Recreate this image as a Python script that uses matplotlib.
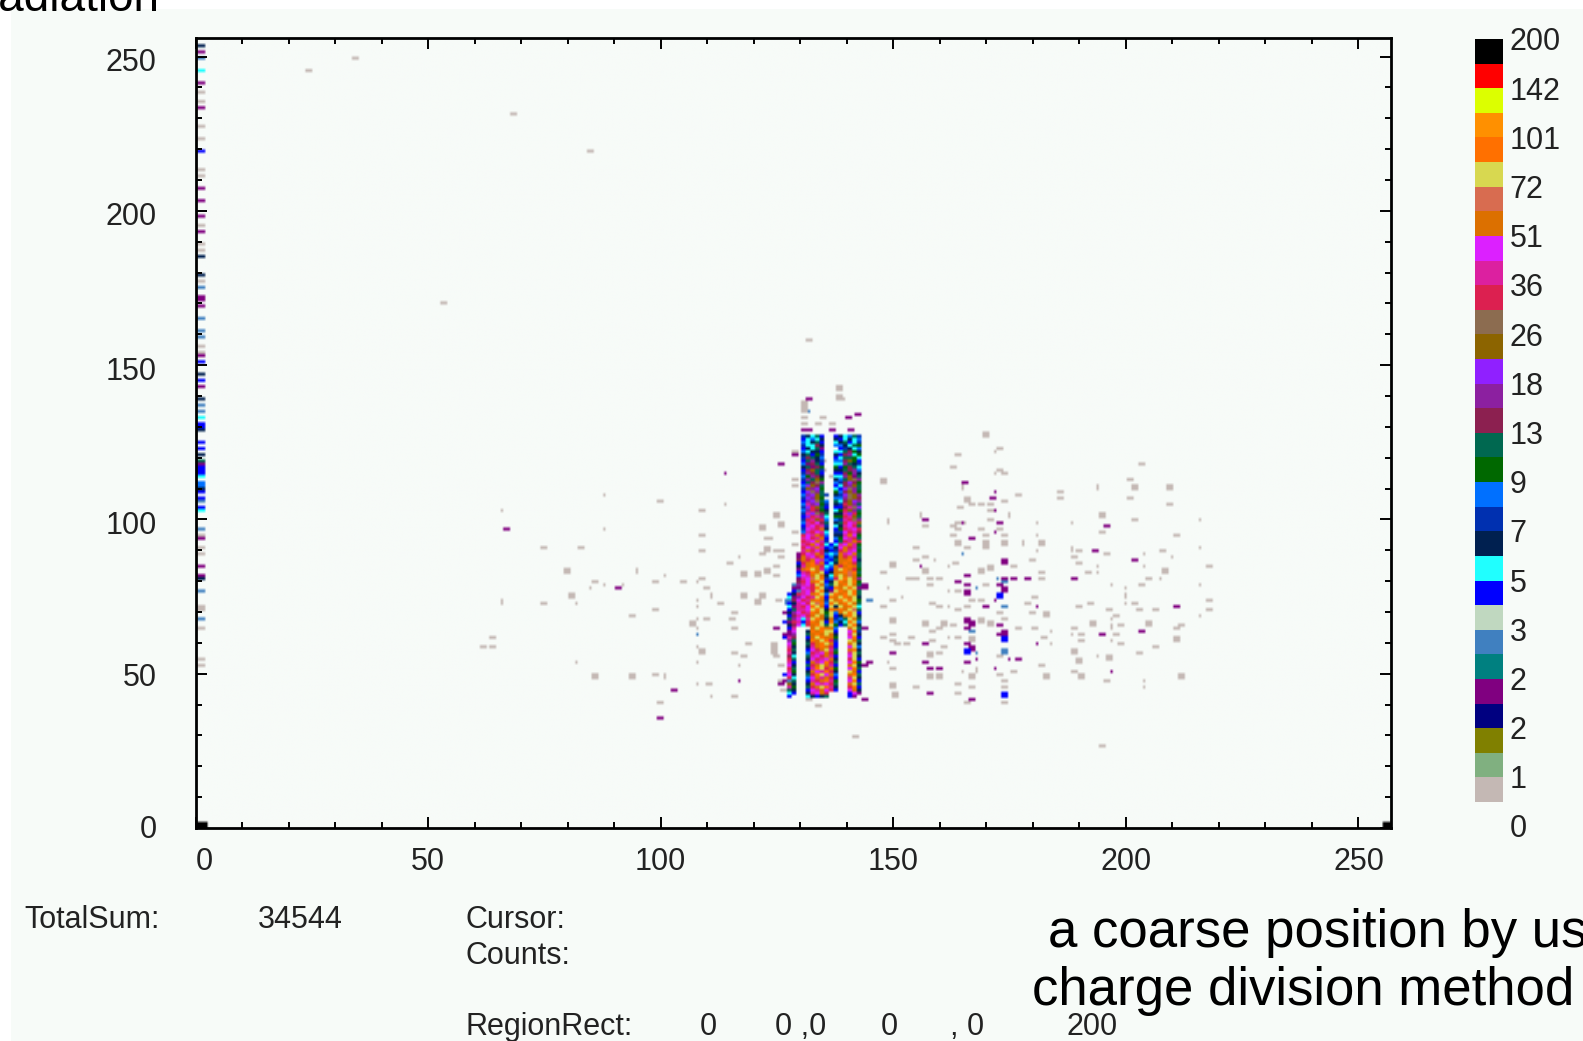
import numpy as np
import matplotlib
matplotlib.use('Agg')
import matplotlib.pyplot as plt
from matplotlib.colors import to_rgb
from matplotlib.patches import Rectangle
from matplotlib.transforms import ScaledTranslation

# colour scale, bottom to top
palette = {
    'a': '#c4b8b4', 'b': '#80b080', 'c': '#808000', 'd': '#000080', 'e': '#800080',
    'f': '#008080', 'g': '#4080c0', 'h': '#c0d8c0', 'i': '#0000ff', 'j': '#20ffff',
    'k': '#002050', 'l': '#0030b0', 'm': '#0070ff', 'n': '#006800', 'o': '#006850',
    'p': '#8c2050', 'q': '#8c20a0', 'r': '#9020ff', 's': '#8c6400', 't': '#8c6c50',
    'u': '#dc2050', 'v': '#dc20a0', 'w': '#dc20ff', 'x': '#dc7000', 'y': '#d86c50',
    'z': '#d8d850', 'A': '#ff7000', 'B': '#ff9000', 'C': '#dcff00', 'D': '#ff0000',
    'E': '#000000',
}
scale_labels = ['0', '1', '2', '2', '3', '5', '7', '9', '13', '18', '26', '36',
                '51', '72', '101', '142', '200']

# dense double peak, one string per row, columns start at x = 126
blob_top_y = 126
blob_rows = [
    ".... lkjoi. .i kjmol.", ".... ijmjk. .k ijkjm.", ".... mjkoi. .j koijl.",
    ".... ljjpk. .m mkjon.", ".... ikjoe. .. ilkjm.", ".... mjkki. .j jopnk.",
    ".... koinl. .k ipqjn.", ".... lpokm. .i joonj.", ".... ioqkl. .m mpsni.",
    ".... mepoi. .j jqokl.", ".... koepn. .n inpoj.", ".... ipsol. .k kopqm.",
    ".... lqpoi. .i ipnqk.", ".... mnqpk. .j jqseo.", ".... lqosn. .k mostq.",
    ".... ioptq. .m lprpn.", ".... mrspo. .i jpqso.", ".... lsqrn. .j irtqo.",
    ".... irtqo. .n mpsqn.", ".... mqrsol .k lrtsq.", ".... lrqsn. .m mqtsp.",
    ".... iqrtom .o jpsrq.", ".... mvqrnl .k lusqo.", ".... lrusoi .i ipvtr.",
    ".... mqupnk .j nusqo.", ".... lvrtpo .k kvrun.", ".... iruvqj .n nuvso.",
    ".... luvsum .m lvutq.", ".... mvuwpo .k ouwvs.", ".... ivwuvl .j kvwuo.",
    ".... lwvuxk .i nuvwu.", ".... mvuwvj .l lwuvp.", ".... uwvxum .k kvxwn.",
    ".... vwuvxi .m nwvuo.", ".... uvwxvl .i ouvxu.", ".... vuxwuj ij vwxvn.",
    ".... uwvxvi mk wxuvo.", ".... vxuwuk il uxvwn.", "...e uwvxum jm xvwxo.",
    "...e xvwuxi mk xuxvo.", "...p xuxwvm io xxAwk.", "...i uxAvxi jk xAxuo.",
    "...k vxAxuj mx uxAxo.", "...e xAzxvm ix zAxun.", "...i vuAxzi kx xAyAo.",
    "...m wvxzxk jx zxyxn.", "...e vwyzAl mu zAzxq.", "...p uwxAzi kz AxzAn.",
    "..gq vwuzxm oz xAzxo.", "..ee wvuAzl iA xzAze.", "..ig vwuzAk ez AxzAo.",
    ".iku vwxAzm zA xAzAo.", ".jeq wuvzAi Ax zAxzk.", ".gpw uvxAxl zx AzAzn.",
    ".ikv wuzyAm Az xAzxo.", ".jev uwAzxi zk zxAzj.", ".iov vwzAzk Ax Axzyo.",
    "ekqw uvAxzn zm xzAzi.", ".ipv wuxzxo zi kxAzk.", ".oqw jvzAxk xl mozxo.",
    "ieuv iuAxzi Am kjAzm.", ".kpw juxAzo zn iozAk.", ".iv. ..xzAx xm ..xzo.",
    ".ew. .kAxAz zi ..wAl.", "eeq. .oxAxz xk ..vzk.", "ivp. .ixzAx xn ..wAi.",
    ".qo. .kAxzA ul ..zxo.", ".wn. .ouxAz xi ..xzk.", ".vk. .kvxAx ui ..wzm.",
    ".uo. .iwuxz vo ..xAk.", ".vk. .muvwx un ..vzo.", ".pj. .ovwux vi ..wzk.",
    ".uo. .kwuvw xk ..uzi.", ".vi. .ixvwA uo ..wAn.", ".wk. .ouxzx vi ..xzk.",
    ".uo. .ivAzu xn ..wAo.", ".vn. .kxwvA uk ..zxi.", "iwk. .ouAzw xm ..xAo.",
    ".uj. .mwxvx ui ..vzk.", "ego. .ivuxA vn ..wAi.", ".sk. .kxwvw uo ..xzo.",
    ".vn. .ouxzA vk ..uAi.", ".ok. .iwvxw ui ..wxk.", ".ji. .kvwxu .. ..iwe.",
    ".i.. .jkiko .. ..ie.",
]

# column of counts along x = 0
strip_y = [252.6, 250, 248, 245, 244, 241, 237.5, 234, 232, 227, 223, 218, 213, 210.4,
           206, 202, 197.7, 195, 192, 188, 186, 184.5, 179, 177, 174, 171.4, 170, 168,
           165, 161, 158, 155.8, 153.6, 152.5, 150, 147, 145, 144, 143, 139, 136, 135,
           132.7, 131, 129.4, 128,
           125, 122.5, 121, 120, 119, 117.6, 116.5, 115.5, 114.5, 113.9, 111.7, 111,
           109.6, 108, 107, 105.6, 103.4, 102, 97, 94.5, 93.7, 90, 88.6, 84.6, 81.9,
           80, 77, 71.4, 70, 67.6, 65, 55, 53]
strip_code = ("kegejeaaeaaiaaeeeaeaakkageeeggg"
              "aaeikiiekggjiik"
              "iiekoeiiijmmkiigijgaeaaeekgaagaaa")
corner_cells = [(1, 1), (256, 1)]

gray_dash = [
    (24.3, 244.3), (34.3, 248.9), (68.4, 231), (84.5, 218.6), (53.4, 169.4), (131.8, 157.7),
    (141.8, 29.7), (194.7, 26.8),
    (99.8, 105.2), (108.7, 102.5), (121.8, 97), (108.7, 94.4), (122.8, 93.5), (74.8, 90),
    (82.6, 90), (108.7, 89.1), (121.8, 88.2), (114.6, 85.5), (117.5, 81.9), (120.6, 81.9),
    (108.7, 81), (85.5, 79.2), (98.5, 79.2), (104.5, 79.2), (109.8, 77.5), (74.8, 72.1),
    (120.6, 73), (112.8, 72.1), (98.5, 70.3), (93.8, 68.6), (115.7, 69.5), (115.2, 67.6),
    (109.8, 67.6), (115.7, 65), (63.6, 61.4), (61.8, 58.8), (63.6, 58.8), (118.8, 59.7),
    (115.7, 56.1), (117.5, 55.3), (98.5, 49.9), (110.2, 46.3), (115.7, 42.8), (100, 41),
    (172.8, 123), (163.9, 120.3), (162.7, 116.8), (172.5, 115.5), (174, 114), (203.1, 117.6),
    (200.7, 112.2), (185.9, 108.7), (185.9, 106.9), (177, 107.8), (200.7, 106), (165.6, 106.9),
    (174, 105.1), (165.7, 105.1), (166.9, 104.3), (168.7, 104.3), (171, 104.3), (209.1, 104.3),
    (164.2, 103.3), (171, 102.6), (201.9, 99.8), (171, 99.8), (165, 98.8), (163.9, 98.8),
    (156.8, 97.1), (162.7, 97.1), (163.9, 96.2), (168.7, 96.2), (172.8, 96.2), (194.8, 95.3),
    (210.8, 94.4), (169.9, 94.4), (174, 94), (162.7, 94.4), (165.7, 90), (169.9, 90), (155, 90),
    (190, 89.1), (207.9, 89.1), (196, 88.2), (188.9, 87.3), (156.8, 87.3), (155, 86.4),
    (179.9, 86.4), (190, 85.6), (163.2, 85.6), (175.8, 84.7), (217.9, 84.7), (147.8, 82),
    (181.7, 82), (191.9, 82), (155, 81), (153.2, 80.2), (158, 80.2), (159.8, 80.2),
    (181.7, 80.2), (204.8, 80.2), (203.4, 78.9), (158, 78.4), (169.9, 78.4), (163.9, 76.7),
    (149.6, 73.1), (158.2, 72.2), (166.5, 73.1), (168.6, 73.1), (180.1, 74), (178.6, 72.2),
    (192.3, 72.2), (201.9, 72.2), (217.9, 73.1), (147.8, 71.3), (159.8, 71.3), (165.6, 71.3),
    (190, 71.3), (163.9, 70.4), (172.8, 69.8), (179.9, 69.6), (196.2, 70.4), (206.1, 70.4),
    (217.9, 70.4), (203, 70), (174, 67.7), (197.6, 68.6), (162.7, 65.1), (180.1, 64.9),
    (159.8, 64), (177, 64), (188.9, 64), (198.9, 65.1), (210.5, 64), (212, 65.1), (158.2, 63.2),
    (149.6, 62.4), (147.8, 61.5), (153.8, 61.5), (163.9, 61.5), (182.2, 61.5), (190.1, 62.4),
    (197.6, 62.4), (149.6, 60.5), (150.8, 59.7), (152.6, 59.7), (158.2, 60.5), (190.1, 60.5),
    (198.9, 59.7), (160.9, 58.8), (206.1, 58.8), (159.8, 56.1), (172.5, 55.7), (203, 56.1),
    (181.7, 52.6), (149.6, 51.7), (175.8, 50.7), (188.9, 50.7), (172.9, 49.9), (196, 47.2),
    (163.9, 47), (174, 47.2), (155, 45.5), (166.9, 45.5), (174, 45.5), (163.9, 43.6), (165.7, 41),
    (174, 41),
    (130.6, 132.6), (133.5, 131), (134.7, 132.6), (138.5, 138.6), (136.6, 130.2), (130.6, 130.3),
    (128.8, 121.9), (134.9, 118.9), (136.5, 113.5), (128.8, 112.8), (128.8, 110), (134.9, 115.4),
    (126, 99), (121.7, 97.2), (126, 97.2), (123.1, 93.4), (128.8, 95.6), (128.8, 91.8),
    (124.5, 89.6), (126, 89.1), (121.7, 88.2), (126, 87.3), (124.7, 84.8), (120.6, 82.1),
    (117.6, 82.1), (124.7, 81.9), (120.6, 73.2), (125.2, 73.7), (118.8, 59.7), (117.6, 55.2),
    (124.7, 55.2), (125.6, 53), (125.6, 47.7), (133.6, 39.3), (126.3, 44.7), (131.7, 41.8),
]
gray_block = [
    (79.5, 83.2), (81, 75.3), (122.8, 90.4), (122.8, 83.3), (117.5, 75.3), (121.8, 75.3),
    (106.9, 66.3), (108.7, 57.4), (85.5, 48.5), (93.8, 48.5),
    (169.8, 127), (147.8, 111.8), (201.9, 110), (209.1, 109.6), (194.8, 101), (149.6, 85),
    (208.4, 83.3), (163.9, 92.2), (169.9, 92.2), (174, 92.2), (181.7, 92.2), (156.8, 83.3),
    (168.6, 83.3), (171, 84.3), (149.6, 67.1), (156.8, 66), (160.9, 66.4), (171, 66.4), (183, 69),
    (193, 66.4), (204.6, 66.4), (210.8, 61), (188.9, 57.4), (158, 55.7), (190, 54), (196.2, 54.7),
    (158, 48.6), (159.8, 48.6), (166.9, 48.6), (183, 48.6), (190.1, 48.8), (212, 48.6),
    (149.6, 45.9), (150.3, 43.2), (166.8, 61), (168.7, 66.5),
    (130.6, 135.3), (138.4, 142.1), (130.6, 137.5), (138.4, 139), (124.7, 101.1), (123, 83.2),
    (117.6, 75.3), (121.7, 75.3), (124.4, 57.4), (124.4, 59.5),
]
gray_dot = [
    (87.6, 107.8), (65.6, 102.5), (113.7, 104.3), (87.6, 97), (116.6, 87.3), (100.6, 81.9),
    (87.6, 78.4), (84.6, 77.5), (91.7, 78.4), (107.8, 79.2), (81.6, 73), (107.8, 73.9),
    (107.8, 71.7), (107.8, 67.6), (107.8, 65), (107.8, 58.8), (81.6, 53.4), (107.8, 53.4),
    (116.6, 52.4), (107.8, 46.3), (110.7, 42.8),
    (171.8, 121.2), (171.8, 114), (180.8, 98.9), (188, 98), (215.9, 99.8), (180.8, 94.4),
    (215.9, 90.8), (180.8, 89.1), (203.9, 88.2), (209.8, 87.3), (158.8, 86.4), (193.8, 84.7),
    (203.9, 84.7), (161.8, 84.7), (193.8, 82), (207, 80.2), (196.9, 78.4), (199.8, 77.5),
    (215.9, 78.4), (148.7, 77.5), (161.8, 76.7), (151.8, 74), (199.8, 72.2), (161.8, 71.3),
    (215.9, 68.6), (196.9, 67.7), (183.8, 63.2), (161.8, 61.5), (183.8, 59.7), (188, 62.4),
    (196.9, 60.6), (148.7, 53.4), (193.8, 55.3), (164.7, 50.7), (203.9, 47.2), (203.9, 45.5),
]
gray_tall = [
    (65.6, 73), (94.7, 83.2), (110.7, 75.3), (100.6, 48.5), (199.8, 75.5), (196.9, 64.7),
    (167.9, 51), (177.9, 92.2), (188, 90.4), (148.7, 98.5), (174.9, 101.2), (164.7, 109.6),
    (193.8, 110.1), (155.9, 101),
]
purple_dash = [
    (66.5, 96.2), (90.8, 77.5), (102.7, 44.5), (99.7, 35.6),
    (165.4, 111.4), (171.3, 106), (156.8, 99.8), (172.8, 98), (166.8, 93.5), (196, 97.1),
    (193.1, 89.1), (201.9, 86.4), (165.9, 81.6), (174, 81), (176, 81), (178.7, 80.2), (188.9, 81),
    (163.9, 79.3), (165.6, 78.4), (172.8, 78.4), (169.9, 71.3), (210.8, 71.3), (172.8, 65.1),
    (165.7, 64), (194.8, 62.4), (203.2, 63.2), (172.9, 62.4), (156.8, 59.7), (165.7, 59.7),
    (149.6, 56.1), (156.8, 53.4), (165.7, 53.4), (177, 54.4), (158, 51.7), (159.8, 51.7),
    (166.9, 41.9), (158, 43.6),
    (131.7, 138), (142.1, 133.7), (140.3, 132.1), (130.6, 128.3), (132, 128.3), (136.7, 128.3),
    (140.7, 128.3), (128.8, 120.3), (126, 117.6), (124.7, 64.4), (126, 46), (143.5, 41.8),
    (144.6, 53.3), (143.5, 52.5), (143.7, 64.9),
]
purple_block = [
    (174, 86), (174, 77), (165.7, 75.7), (165.7, 66.9), (166.8, 66.4), (174, 63.2), (174, 60.5),
    (166.8, 58), (143.7, 78.4),
]
purple_dot = [
    (113.7, 114), (116.6, 47.2), (171.8, 108.7), (171.8, 102.5), (164.9, 98), (171.8, 95.3),
    (155.9, 84.6), (180.8, 71.3), (180.8, 59.7), (167.7, 54.4), (174.9, 54.4), (171.8, 51.7),
    (196.9, 50.7), (171.8, 73.9),
]
blue_block = [(172.8, 75.3), (174, 61.5), (165.7, 57.4), (174, 43.2)]
steel_block = [(174, 57.4), (127.4, 73.5)]
steel_dash = [(174, 71.3), (174, 79.7), (166.9, 63.2), (145, 73.8)]
steel_dot = [(107.8, 62.4), (164.8, 88.2), (172, 81), (167.8, 77.5), (167.8, 56.1), (131.7, 134.6)]

W, H = 1583, 1041
BG = '#f7fbf8'
narrow = ['Liberation Sans Narrow', 'Liberation Sans']
FS = 22


def fx(px):
    return px / W


def fy(py):
    return 1 - py / H


# image grid has two columns per x unit, one row per y unit
grid = np.zeros((255, 514, 3))
grid[:, :] = to_rgb(BG)


def paint(x, y, code, w, h):
    i0 = int(round(x * 2 - w / 2))
    j0 = int(round(y - h / 2))
    grid[max(j0, 0):j0 + h, max(i0, 0):i0 + w] = to_rgb(palette[code])


def paint_all(points, code, w, h):
    for x, y in points:
        paint(x, y, code, w, h)


paint_all(gray_dash, 'a', 3, 1)
paint_all(gray_block, 'a', 3, 2)
paint_all(gray_dot, 'a', 1, 1)
paint_all(gray_tall, 'a', 1, 2)
paint_all(purple_dash, 'e', 3, 1)
paint_all(purple_block, 'e', 3, 2)
paint_all(purple_dot, 'e', 1, 1)
paint_all(steel_dash, 'g', 3, 1)
paint_all(steel_block, 'g', 3, 2)
paint_all(steel_dot, 'g', 1, 1)
paint_all(blue_block, 'i', 3, 2)
for yv, c in zip(strip_y, strip_code):
    paint(0.9, yv, c, 4, 1)
paint_all(corner_cells, 'E', 5, 2)
for n, row in enumerate(blob_rows):
    for m, c in enumerate(row.replace(' ', '')):
        if c != '.':
            paint(126 + m + 0.5, blob_top_y - n + 0.5, c, 2, 1)

fig = plt.figure(figsize=(W / 100, H / 100), dpi=100)
fig.patches.append(Rectangle((fx(11), 0), 1 - fx(11), fy(9), transform=fig.transFigure,
                             facecolor=BG, edgecolor='none', zorder=-5))

ax = fig.add_axes([fx(195.5), fy(828), fx(1391 - 195.5), fy(38) - fy(828)])
ax.set_facecolor(BG)
ax.imshow(grid, origin='lower', extent=(0, 257, 0, 256), aspect='auto', interpolation='bilinear')
ax.set_xlim(0, 257)
ax.set_ylim(0, 256)
for s in ax.spines.values():
    s.set_linewidth(2.0)
ax.set_xticks(np.arange(0, 251, 50))
ax.set_xticks(np.arange(0, 251, 10), minor=True)
ax.set_yticks(np.arange(0, 251, 50))
ax.set_yticks(np.arange(0, 251, 10), minor=True)
ax.tick_params(which='major', direction='in', top=True, right=True, length=8, width=1.4,
               labelsize=FS, labelcolor='#222222')
ax.tick_params(which='minor', direction='in', top=True, right=True, length=4.5, width=1.4)
ax.tick_params(axis='x', which='major', pad=13.5)
ax.tick_params(axis='y', which='major', pad=28)
for lab in ax.get_xticklabels() + ax.get_yticklabels():
    lab.set_family(narrow)
ax.get_xticklabels()[0].set_transform(
    ax.get_xticklabels()[0].get_transform() + ScaledTranslation(9 / 100, 0, fig.dpi_scale_trans))
# labels on the y axis sit a little below their ticks
for lab, dy in zip(ax.get_yticklabels(), [1, -1, -3, -3, -3, -3]):
    lab.set_transform(lab.get_transform() + ScaledTranslation(0, dy / 100, fig.dpi_scale_trans))

# colour scale
cax = fig.add_axes([fx(1475), fy(801.7), fx(1502.3 - 1475), fy(39.3) - fy(801.7)])
codes = list(palette.keys())
cax.imshow(np.array([[to_rgb(palette[c])] for c in codes]), origin='lower', aspect='auto',
           extent=(0, 1, 0, len(codes)), interpolation='nearest')
cax.axis('off')
for n, lab in enumerate(scale_labels):
    cax.text(1.26, 2 * n - 1.13, lab, fontsize=FS, family=narrow, color='#222222',
             ha='left', va='center', clip_on=False)


def label(px, py, s, **kw):
    fig.text(fx(px), fy(py), s, fontsize=FS, family=narrow, color='#222222', va='center', **kw)


label(24, 920, 'TotalSum:')
label(258, 920, '34544')
label(465, 920, 'Cursor:')
label(465, 956, 'Counts:')
label(465, 1027, 'RegionRect:')
label(700, 1027, '0')
label(775, 1027, '0 ,0')
label(881, 1027, '0')
label(950, 1027, ', 0')
label(1066, 1027, '200')

sans = ['Liberation Sans', 'DejaVu Sans']
fig.text(fx(159), fy(11), 'Radiation', fontsize=33, family=sans, color='black',
         ha='right', va='baseline')
fig.text(fx(1048), fy(947), 'a coarse position by using', fontsize=38, family=sans,
         color='black', va='baseline')
fig.text(fx(1032), fy(1004.5), 'charge division method', fontsize=38, family=sans,
         color='black', va='baseline')

fig.savefig('out.png', dpi=100)
